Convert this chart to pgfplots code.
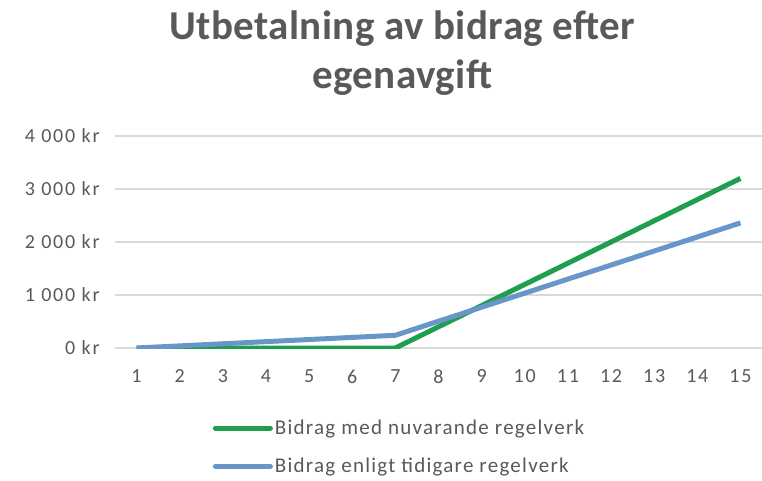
\documentclass[border=0pt]{standalone}
\usepackage{fontspec}
\setmainfont{Carlito}
\usepackage{pgfplots}
\pgfplotsset{compat=1.18}
\definecolor{cgreen}{RGB}{30,158,78}
\definecolor{cblue}{RGB}{104,150,200}
\definecolor{ctext}{RGB}{89,89,89}
\definecolor{cgrid}{RGB}{217,217,217}
\begin{document}
\begin{tikzpicture}
\useasboundingbox (-115pt,-132pt) rectangle (647pt,348pt);
\begin{axis}[
  scale only axis,
  width=647pt, height=212pt,
  xmin=0.5, xmax=15.5,
  ymin=0, ymax=4000,
  xtick={1,...,15},
  ytick={0,1000,2000,3000,4000},
  yticklabels={0 kr,1 000 kr,2 000 kr,3 000 kr,4 000 kr},
  axis line style={draw=none},
  major tick length=0pt,
  ymajorgrids,
  grid style={cgrid, line width=1.2pt},
  /pgf/number format/assume math mode=true,
  tick label style={font=\fontsize{20}{22}\selectfont\addfontfeatures{LetterSpace=9}, text=ctext},
  yticklabel style={xshift=-12pt},
  xticklabel style={yshift=-18pt},
  title={Utbetalning av bidrag efter\\egenavgift},
  title style={font=\fontsize{41}{49}\selectfont\bfseries\addfontfeatures{LetterSpace=1}, text=ctext, align=center, at={(0.444,1.58)}, anchor=north},
  legend style={draw=none, fill=none, at={(0.151,-0.33)}, anchor=north west,
    font=\fontsize{21}{24}\selectfont\addfontfeatures{LetterSpace=6}, text=ctext, row sep=18pt,
    inner sep=0pt, cells={anchor=west}},
  legend cell align=left,
  legend image code/.code={\draw[line width=5pt, line cap=round] (0pt,0pt) -- (55pt,0pt);},
  every axis plot/.append style={line width=5pt, mark=none},
]
\addplot[cgreen] coordinates {(1,0)(2,0)(3,0)(4,0)(5,0)(6,0)(7,0)(8,400)(9,800)(10,1200)(11,1600)(12,2000)(13,2400)(14,2800)(15,3200)};
\addlegendentry{Bidrag med nuvarande regelverk}
\addplot[cblue] coordinates {(1,0)(2,40)(3,80)(4,120)(5,160)(6,200)(7,240)(8,505)(9,770)(10,1035)(11,1300)(12,1565)(13,1830)(14,2095)(15,2360)};
\addlegendentry{Bidrag enligt tidigare regelverk}
\end{axis}
\end{tikzpicture}
\end{document}
